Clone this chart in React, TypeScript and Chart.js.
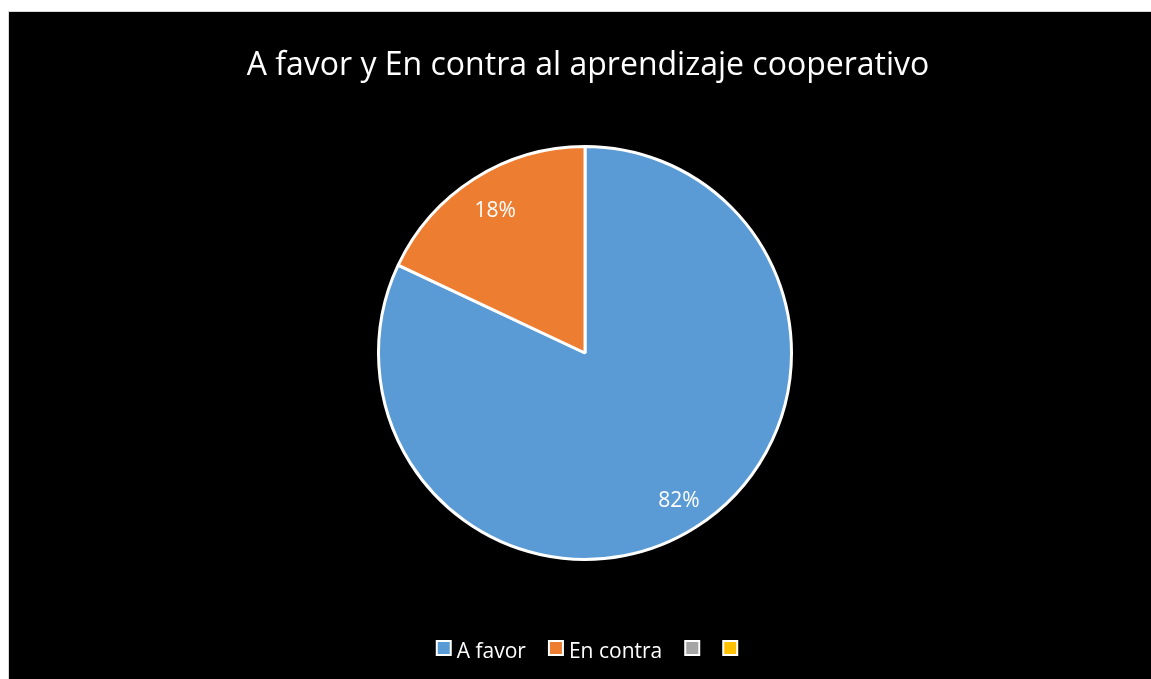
import React, { useEffect, useRef } from "react";
import { Chart, registerables } from "chart.js";

Chart.register(...registerables);

const chartTitle = "A favor y En contra al aprendizaje cooperativo";
const categories = ["A favor", "En contra", "", ""];
const values = [82, 18, 0, 0];
const sliceColors = ["#5b9bd5", "#ed7d31", "#a5a5a5", "#ffc000"];
const FONT = "'Open Sans', 'Noto Sans', sans-serif";

const overlayPlugin = {
  id: "overlay",
  afterDraw(chart: any) {
    const ctx = chart.ctx as CanvasRenderingContext2D;
    ctx.save();
    // title
    ctx.fillStyle = "#ffffff";
    ctx.font = `32px ${FONT}`;
    ctx.textAlign = "center";
    ctx.textBaseline = "alphabetic";
    ctx.fillText(chartTitle, 579, 63);

    // data labels
    const meta = chart.getDatasetMeta(0);
    const total = values.reduce((a, b) => a + b, 0);
    ctx.font = `21px ${FONT}`;
    ctx.textBaseline = "middle";
    meta.data.forEach((arc: any, i: number) => {
      const v = values[i];
      if (!v) return;
      const p = arc.getProps(["x", "y", "startAngle", "endAngle", "outerRadius"], true);
      const mid = (p.startAngle + p.endAngle) / 2;
      const r = p.outerRadius * 0.83;
      const x = p.x + Math.cos(mid) * r;
      const y = p.y + Math.sin(mid) * r;
      ctx.fillText(Math.round((v / total) * 100) + "%", x + 2, y + 3);
    });

    // legend
    ctx.font = `21px ${FONT}`;
    ctx.textAlign = "left";
    ctx.textBaseline = "alphabetic";
    const box = 16;
    const gapText = 5;
    const spacing = 22;
    const widths = categories.map((c) => box + (c ? gapText + ctx.measureText(c).width : 0));
    const totalW = widths.reduce((a, b) => a + b, 0) + spacing * (categories.length - 1);
    let x = 578 - totalW / 2;
    const boxTop = 628;
    categories.forEach((c, i) => {
      ctx.fillStyle = sliceColors[i];
      ctx.strokeStyle = "#ffffff";
      ctx.lineWidth = 2;
      ctx.fillRect(x + 1, boxTop + 1, box - 2, box - 2);
      ctx.strokeRect(x + 1, boxTop + 1, box - 2, box - 2);
      if (c) {
        ctx.fillStyle = "#ffffff";
        ctx.fillText(c, x + box + gapText, 646);
      }
      x += widths[i] + spacing;
    });
    ctx.restore();
  },
};

export default function App() {
  const ref = useRef<HTMLCanvasElement | null>(null);
  useEffect(() => {
    if (!ref.current) return;
    const chart = new Chart(ref.current, {
      type: "pie",
      data: {
        labels: categories,
        datasets: [
          {
            data: values,
            backgroundColor: sliceColors,
            borderColor: "#ffffff",
            borderWidth: values.map((v) => (v ? 3 : 0)),
          },
        ],
      },
      options: {
        animation: false,
        responsive: true,
        maintainAspectRatio: false,
        layout: { padding: { top: 133, bottom: 118, left: 10, right: 0 } },
        plugins: {
          legend: { display: false },
          title: { display: false },
          tooltip: { enabled: false },
        },
      },
      plugins: [overlayPlugin],
    });
    return () => chart.destroy();
  }, []);

  return (
    <div
      style={{
        position: "absolute",
        left: 8,
        top: 11,
        width: 1143,
        height: 668,
        boxSizing: "border-box",
        borderLeft: "1px solid #d9d9d9",
        borderTop: "1px solid #d9d9d9",
        background: "#000000",
      }}
    >
      <div style={{ position: "relative", width: 1142, height: 667 }}>
        <canvas ref={ref} />
      </div>
    </div>
  );
}
